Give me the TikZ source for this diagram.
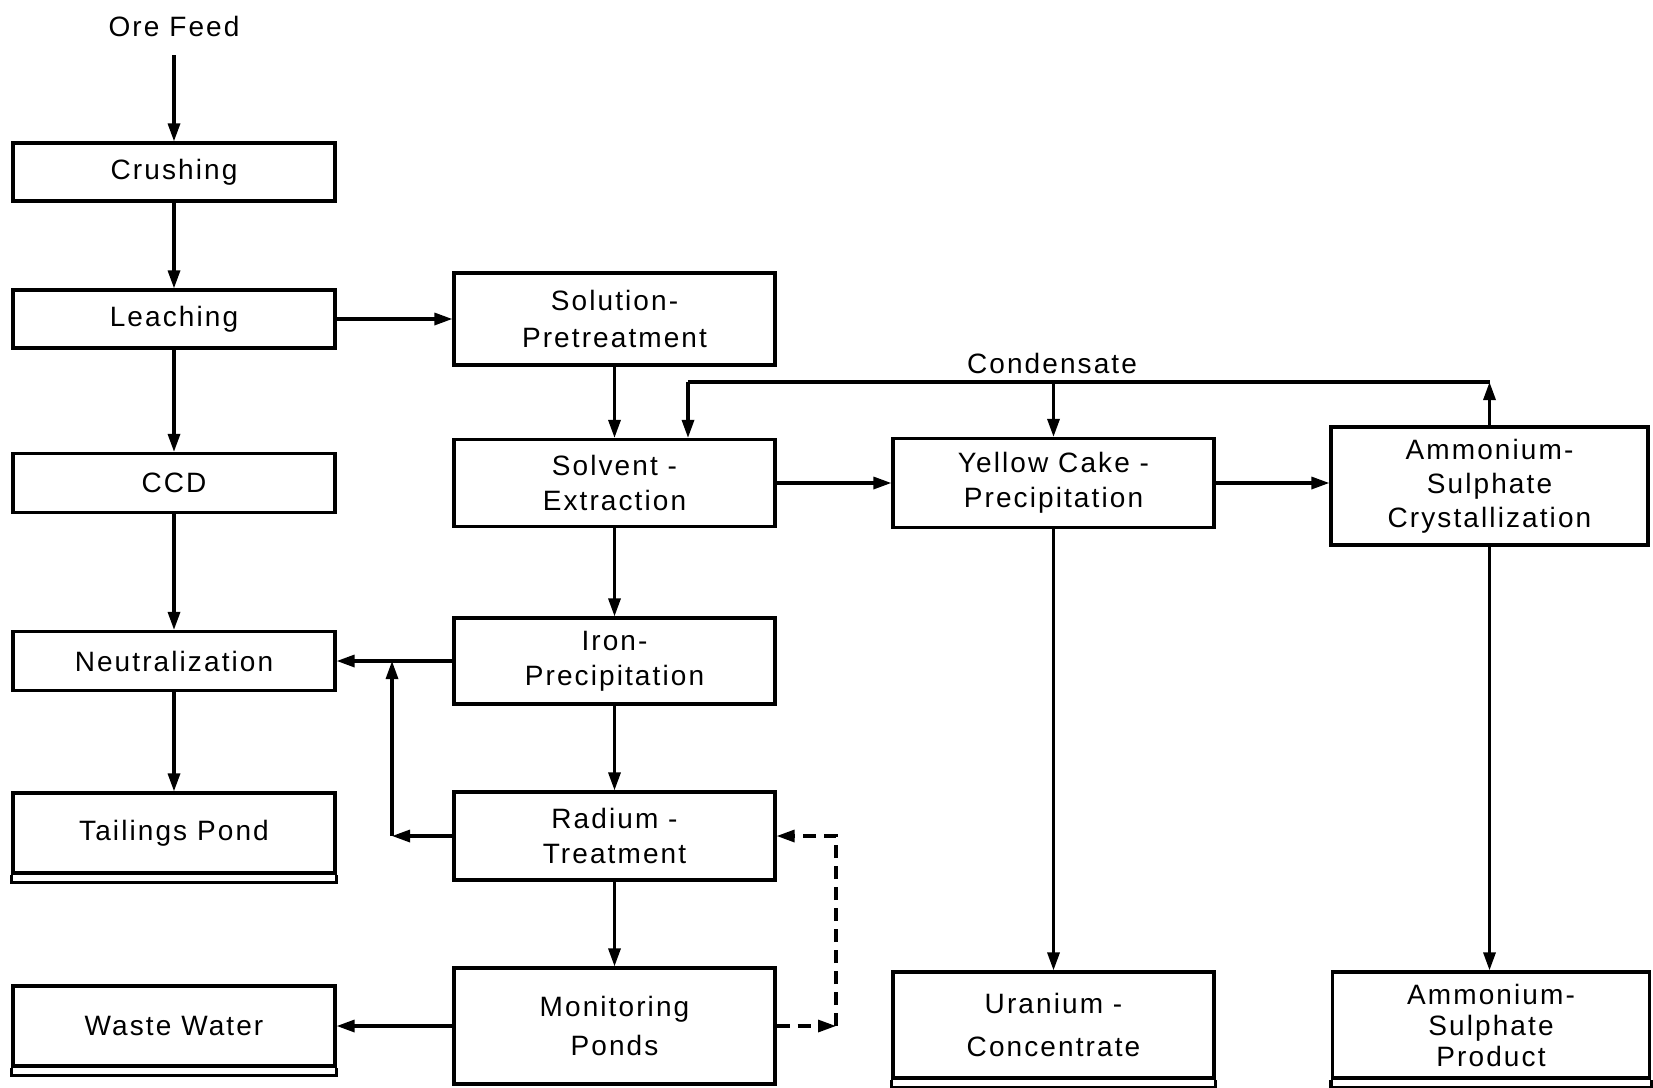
\documentclass[tikz,border=0pt]{standalone}
\usepackage{fontspec}
\setmainfont{Liberation Sans}[LetterSpace=7.5]
\usetikzlibrary{arrows.meta}
\begin{document}
\begin{tikzpicture}[x=1pt,y=-1pt,
  line width=3.2pt,
  font=\fontsize{28}{35}\selectfont,
  box/.style={draw,rectangle,inner sep=0pt,align=center,minimum width=#1},
  box/.default=321pt,
  arr/.style={-{Triangle[length=18pt,width=12pt]}},
  dsh/.style={dash pattern=on 13pt off 8pt}
]
\useasboundingbox (0,0) rectangle (1653,1087);

% left column
\node (ore) at (174,26) {Ore Feed};
\coordinate (oreS) at (174,55);
\node[box=322pt,minimum height=58pt] (crush) at (174,172) {Crushing};
\node[box=322pt,minimum height=58pt] (leach) at (174,319) {Leaching};
\node[box=322pt,minimum height=59pt] (ccd) at (174,483) {CCD};
\node[box=322pt,minimum height=59pt] (neut) at (174,661) {Neutralization};
\node[box=322pt,minimum height=80pt] (tail) at (174,833) {Tailings Pond};
\node[box=322pt,minimum height=80pt] (waste) at (174,1026) {Waste Water};

% middle column
\node[box,minimum height=92pt,font=\fontsize{28}{37}\selectfont] (sol) at (614.5,319) {Solution-\\Pretreatment};
\node[box,minimum height=87pt] (solv) at (614.5,483) {Solvent -\\Extraction};
\node[box,minimum height=86pt] (iron) at (614.5,661) {Iron-\\Precipitation};
\node[box,minimum height=88pt] (rad) at (614.5,836) {Radium -\\Treatment};
\node[box,minimum height=116pt,font=\fontsize{28}{39}\selectfont] (mon) at (614.5,1026) {Monitoring\\Ponds};

% right columns
\node[box,minimum height=89pt] (yel) at (1053.5,483) {Yellow Cake -\\Precipitation};
\node[box=317pt,minimum height=118pt,font=\fontsize{28}{34}\selectfont] (ams) at (1489.5,486) {Ammonium-\\Sulphate\\Crystallization};
\node[box,minimum height=106pt,font=\fontsize{28}{43}\selectfont] (ura) at (1053.5,1025) {Uranium -\\Concentrate};
\node[box=317pt,minimum height=106pt,font=\fontsize{28}{31}\selectfont] (amp) at (1491,1025) {Ammonium-\\Sulphate\\Product};

% double bottom lines
\foreach \n in {tail,waste,ura,amp}{
  \draw (\n.south west) -- ([yshift=-8pt]\n.south west) -- ([yshift=-8pt]\n.south east) -- (\n.south east);
}

% left column flow
\draw[arr] (oreS) -- (crush.north);
\draw[arr] (crush) -- (leach);
\draw[arr] (leach) -- (ccd);
\draw[arr] (ccd) -- (neut);
\draw[arr] (neut) -- (tail);

% middle flow
\draw[arr] (leach.east) -- (leach.east -| sol.west);
\draw[arr] (sol) -- (solv);
\draw[arr] (solv) -- (iron);
\draw[arr] (iron) -- (rad);
\draw[arr] (rad) -- (mon);
\draw[arr] (iron.west) -- (iron.west -| neut.east);
\coordinate (jn) at (392,661);
\coordinate (jc) at (392,836);
\draw[arr] (rad.west) -- (jc);
\draw[arr] (jc) -- (jn);
\draw[arr] (mon.west) -- (mon.west -| waste.east);

% dashed recycle
\coordinate (dB) at (836,1026);
\coordinate (dT) at (836,836);
\draw[arr,dsh] (mon.east) -- (dB);
\draw[arr,dsh] (dB) -- (dT) -- (rad.east);

% right flow
\draw[arr] (solv.east) -- (solv.east -| yel.west);
\draw[arr] (yel.east) -- (yel.east -| ams.west);
\draw[arr] (yel) -- (ura);
\draw[arr] (ams.south) -- (ams.south |- amp.north);

% condensate
\coordinate (cR) at (1489.5,382);
\coordinate (cL) at (688,382);
\coordinate (cM) at (1053.5,382);
\node (cond) at (1052,363) {Condensate};
\draw[arr] (ams.north) -- (cR);
\draw (cR) -- (cL);
\draw[arr] (cL) -- (cL |- solv.north);
\draw[arr] (cM) -- (yel.north);
\end{tikzpicture}
\end{document}
